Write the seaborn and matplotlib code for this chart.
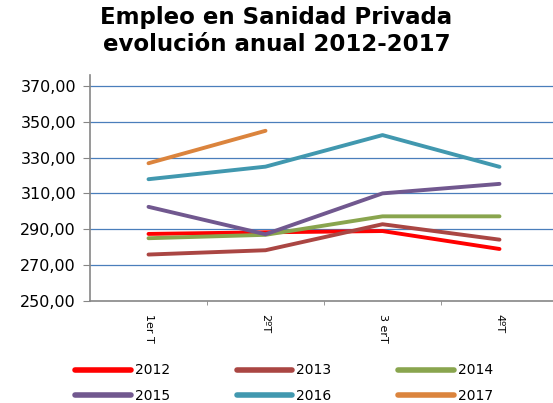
import pandas as pd
import seaborn as sns
import matplotlib.pyplot as plt
from matplotlib.ticker import FuncFormatter

# trimestres y valores
trimestres = ["1er T", "2ºT", "3 erT", "4ºT"]
v2012 = [287.4, 288.3, 289.0, 279.0]
v2013 = [275.9, 278.3, 292.8, 284.2]
v2014 = [285.0, 286.9, 297.2, 297.2]
v2015 = [302.5, 287.2, 310.0, 315.3]
v2016 = [317.9, 324.9, 342.5, 324.8]
v2017 = [326.8, 344.9]

anios = ["2012", "2013", "2014", "2015", "2016", "2017"]
series = [v2012, v2013, v2014, v2015, v2016, v2017]
colores = ["#FF0000", "#AA4643", "#89A54E", "#71588F", "#4198AF", "#DB843D"]

rows = []
for anio, vals in zip(anios, series):
    for t, v in zip(trimestres, vals):
        rows.append({"trimestre": t, "empleo": v, "anio": anio})
df = pd.DataFrame(rows)

sns.set_style("white")
plt.rcParams["font.family"] = ["DejaVu Sans"]
plt.rcParams["text.color"] = "black"
plt.rcParams["xtick.color"] = "black"
plt.rcParams["ytick.color"] = "black"

fig = plt.figure(figsize=(5.53, 4.03), dpi=100)
ax = fig.add_axes([90 / 553, 102 / 403, 468 / 553, 226 / 403])

# gridlines first so the lines sit on top
for y in range(270, 371, 20):
    ax.axhline(y, color="#4A7EBB", lw=0.9, zorder=0)

sns.lineplot(data=df, x="trimestre", y="empleo", hue="anio", palette=colores,
             sort=False, lw=2.8, ax=ax, legend=True, zorder=3)
for ln in ax.lines:
    ln.set_solid_capstyle("round")

ax.set_xlim(-0.5, 3.5)
ax.set_ylim(250, 376)
ax.set_yticks(range(250, 371, 20))
ax.yaxis.set_major_formatter(FuncFormatter(lambda v, p: f"{v:.2f}".replace(".", ",")))
ax.set_xlabel("")
ax.set_ylabel("")

for s in ["top", "right"]:
    ax.spines[s].set_visible(False)
for s in ["left", "bottom"]:
    ax.spines[s].set_color("#868686")
    ax.spines[s].set_linewidth(1.2)

ax.tick_params(axis="y", left=True, length=5, color="#868686", labelsize=11.5, pad=5)
ax.tick_params(axis="x", bottom=False, labelsize=8, pad=6)
ax.set_xticks([0.5, 1.5, 2.5], minor=True)
ax.tick_params(axis="x", which="minor", bottom=True, length=3, color="#868686")
for lab in ax.get_xticklabels():
    lab.set_rotation(270)
    lab.set_va("top")

fig.text(0.5, 0.985, "Empleo en Sanidad Privada\nevolución anual 2012-2017",
         ha="center", va="top", fontsize=16.5, fontweight="bold",
         family="DejaVu Sans", linespacing=1.2)

handles, labels = ax.get_legend_handles_labels()
ax.get_legend().remove()
order = [0, 3, 1, 4, 2, 5]
leg = fig.legend([handles[i] for i in order], [labels[i] for i in order],
                 loc="lower left", bbox_to_anchor=(0.113, -0.03), ncol=3,
                 frameon=False, fontsize=10, handlelength=4.0,
                 handletextpad=0.3, columnspacing=4.8, labelspacing=0.8)
for h in leg.get_lines():
    h.set_linewidth(4)
    h.set_solid_capstyle("round")

fig.savefig("out.png", dpi=100)
